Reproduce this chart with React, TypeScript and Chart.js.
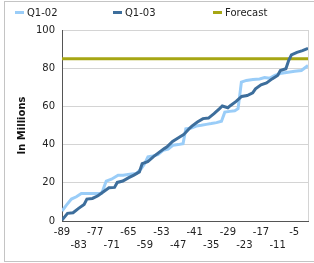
import React, { useEffect, useRef } from "react";
import { Chart, registerables } from "chart.js";

Chart.register(...registerables);

const xTickValues = [-89, -83, -77, -71, -65, -59, -53, -47, -41, -35, -29, -23, -17, -11, -5];
const yTickValues = [0, 20, 40, 60, 80, 100];

const q102X = [-89, -87.4, -85.6, -83.8, -82, -74.8, -74.2, -73, -71.1, -68.7, -66.9, -64.5, -62.1, -60.3, -59.1, -57.9, -56.1, -54.3, -52.4, -50.6, -48.8, -47, -45.2, -44.2, -42.2, -40.4, -38.6, -36.8, -35, -33.1, -31.3, -30.1, -28.3, -26.5, -25.3, -24.1, -22.3, -19.9, -17.5, -15.7, -13.8, -12, -9.6, -7.2, -4.8, -2.4, 0];
const q102Y = [5.2, 8.3, 11.5, 12.7, 14.4, 14.4, 16.2, 20.9, 21.9, 24, 24, 24.5, 24.9, 27.5, 30, 33.6, 34.1, 34.8, 37, 37.6, 39.7, 40, 40.5, 48.3, 48.7, 49.7, 50.1, 50.6, 51, 51.5, 52.2, 57, 57.4, 57.7, 58.8, 72.7, 73.6, 74.1, 74.4, 75.1, 74.8, 76.2, 77.4, 77.9, 78.4, 78.8, 81.4];

const q103X = [-89, -87, -85, -83, -81, -80, -78, -76, -74, -72, -70, -69, -67, -65, -63, -61, -60, -58, -56, -54, -52, -51, -49, -47, -45, -43, -42, -40, -38, -36, -34, -32, -31, -29, -28, -26, -24, -22, -20, -19, -17, -15, -13, -11, -10, -8, -7, -6, -4, -2, 0];
const q103Y = [0.5, 4, 4.3, 6.6, 8.7, 11.5, 11.8, 13.2, 15.3, 17.4, 17.6, 20.2, 20.9, 22.6, 24, 25.7, 30, 31, 33.6, 35.8, 37.9, 38.8, 41.7, 43.5, 45.2, 48.3, 49.7, 51.8, 53.6, 53.9, 56.2, 58.8, 60.2, 59.3, 60.5, 62.6, 65.2, 65.7, 67.1, 69.2, 71.3, 72.3, 74.4, 76.2, 78.8, 79.7, 84, 87, 88.3, 89.2, 90.4];

const forecastX = [-89, 0];
const forecastY = [85, 85];

const seriesNames = ["Q1-02", "Q1-03", "Forecast"];
const seriesColors = ["#9ACDF8", "#3D6E9C", "#A6A614"];

const FONT = "'DejaVu Sans', sans-serif";

const toPoints = (xs: number[], ys: number[]) => xs.map((x, i) => ({ x, y: ys[i] }));

const rightBorder = {
  id: "rightBorder",
  afterDraw(chart: any) {
    const { ctx, chartArea } = chart;
    ctx.save();
    ctx.strokeStyle = "#d4d4d4";
    ctx.lineWidth = 1;
    ctx.beginPath();
    ctx.moveTo(Math.round(chartArea.right) + 0.5, chartArea.top);
    ctx.lineTo(Math.round(chartArea.right) + 0.5, chartArea.bottom);
    ctx.stroke();
    ctx.restore();
  },
};

export default function App() {
  const canvasRef = useRef<HTMLCanvasElement | null>(null);

  useEffect(() => {
    document.body.style.margin = "0";
    const canvas = canvasRef.current;
    if (!canvas) return;
    const chart = new Chart(canvas, {
      type: "line",
      data: {
        datasets: [
          { label: seriesNames[0], data: toPoints(q102X, q102Y), borderColor: seriesColors[0], backgroundColor: seriesColors[0], borderWidth: 3, pointRadius: 0, tension: 0, order: 1 },
          { label: seriesNames[1], data: toPoints(q103X, q103Y), borderColor: seriesColors[1], backgroundColor: seriesColors[1], borderWidth: 3, pointRadius: 0, tension: 0, order: 0 },
          { label: seriesNames[2], data: toPoints(forecastX, forecastY), borderColor: seriesColors[2], backgroundColor: seriesColors[2], borderWidth: 3, pointRadius: 0, tension: 0, order: 2 },
        ],
      },
      options: {
        responsive: false,
        animation: false,
        layout: { padding: { left: 12, top: 30, right: 6, bottom: 0 } },
        plugins: { legend: { display: false }, tooltip: { enabled: false } },
        scales: {
          x: {
            type: "linear",
            min: -89,
            max: 0,
            afterBuildTicks: (scale: any) => {
              scale.ticks = xTickValues.map((v) => ({ value: v }));
            },
            afterFit: (scale: any) => {
              scale.height = 42;
            },
            grid: { display: false, drawTicks: false },
            border: { display: true, color: "#555555", width: 1 },
            ticks: {
              autoSkip: false,
              maxRotation: 0,
              padding: 5,
              color: "#222222",
              font: { family: FONT, size: 10, lineHeight: 1.3 },
              callback: (value: any, index: number) => (index % 2 === 0 ? String(value) : ["", String(value)]),
            },
          },
          y: {
            min: 0,
            max: 100,
            afterBuildTicks: (scale: any) => {
              scale.ticks = yTickValues.map((v) => ({ value: v }));
            },
            afterFit: (scale: any) => {
              scale.width = 50;
            },
            grid: { color: "#d4d4d4", drawTicks: false },
            border: { display: true, color: "#555555", width: 1 },
            ticks: { padding: 7, color: "#222222", font: { family: FONT, size: 10 } },
            title: {
              display: true,
              text: "In Millions",
              color: "#111111",
              padding: { top: 4, bottom: 4 },
              font: { family: FONT, size: 10, weight: "bold" },
            },
          },
        },
      },
      plugins: [rightBorder],
    });
    return () => chart.destroy();
  }, []);

  const legendItems = [
    { name: seriesNames[0], color: seriesColors[0], left: 15 },
    { name: seriesNames[1], color: seriesColors[1], left: 113 },
    { name: seriesNames[2], color: seriesColors[2], left: 213 },
  ];

  return (
    <div style={{ position: "relative", width: 314, height: 263, overflow: "hidden", background: "#ffffff" }}>
      <div style={{ position: "absolute", left: 4, top: 1, width: 330, height: 259, border: "1px solid #c4c4c4" }} />
      <canvas ref={canvasRef} width={314} height={263} style={{ position: "absolute", left: 0, top: 0 }} />
      {legendItems.map((it) => (
        <div key={it.name} style={{ position: "absolute", left: it.left, top: 5, height: 14, display: "flex", alignItems: "center", fontFamily: FONT, fontSize: 10, color: "#222222", whiteSpace: "nowrap" }}>
          <span style={{ display: "inline-block", width: 9, height: 3, background: it.color, marginRight: 3 }} />
          <span>{it.name}</span>
        </div>
      ))}
    </div>
  );
}
